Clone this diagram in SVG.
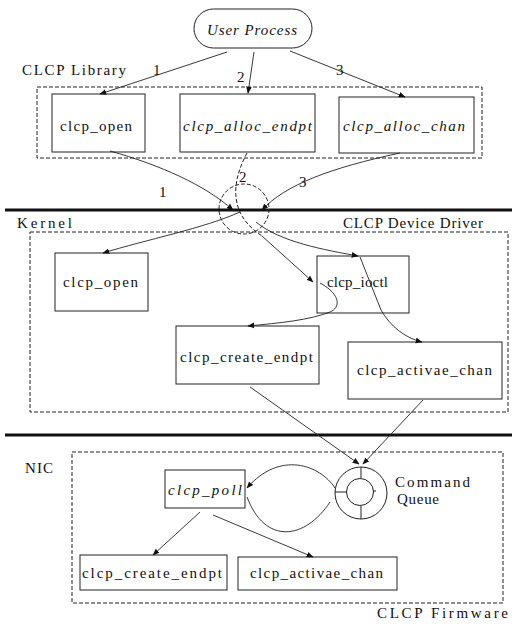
<svg xmlns="http://www.w3.org/2000/svg" width="512" height="628" viewBox="0 0 512 628">
<defs>
<style>
.t{font-family:"Liberation Serif","Times New Roman",serif;font-size:15px;fill:#111}
.i{font-style:italic}
.box{fill:none;stroke:#222;stroke-width:1}
.dash{fill:none;stroke:#222;stroke-width:1;stroke-dasharray:4 2}
.c{fill:none;stroke:#222;stroke-width:0.9}
.thick{stroke:#111;stroke-width:3}
</style>
<marker id="ah" viewBox="0 0 10 10" refX="9" refY="5" markerWidth="7" markerHeight="7" orient="auto" markerUnits="userSpaceOnUse">
<path d="M0,1 L10,5 L0,9 z" fill="#111"/>
</marker>
</defs>
<rect width="512" height="628" fill="#fff"/>

<line class="thick" x1="5" y1="210" x2="512" y2="210"/>
<line class="thick" x1="5" y1="435" x2="512" y2="435"/>
<g id="lib">
<rect class="dash" x="37" y="87" width="445" height="71"/>
<text class="t" x="22" y="75" textLength="104" lengthAdjust="spacing">CLCP Library</text>
</g>
<g id="driver">
<rect class="dash" x="30" y="232" width="478" height="180"/>
<text class="t" x="17" y="228" textLength="55" lengthAdjust="spacing">Kernel</text>
<text class="t" x="343" y="228" textLength="140" lengthAdjust="spacing">CLCP Device Driver</text>
</g>
<g id="firmware">
<rect class="dash" x="72" y="452" width="431" height="151"/>
<text class="t" x="25" y="473" textLength="28" lengthAdjust="spacing">NIC</text>
<text class="t" x="377" y="618" textLength="131" lengthAdjust="spacing">CLCP Firmware</text>
</g>

<g id="user-process">
<rect class="box" x="194" y="9" width="118" height="39" rx="19.5"/>
<text class="t i" x="207" y="35" textLength="90" lengthAdjust="spacing">User Process</text>
</g>

<g id="lib-open">
<rect class="box" x="52" y="94" width="93" height="58"/>
<text class="t" x="60" y="131" textLength="72" lengthAdjust="spacing">clcp_open</text>
</g>
<g id="lib-alloc-endpt">
<rect class="box" x="180" y="94" width="135" height="58"/>
<text class="t i" x="183" y="131" textLength="129" lengthAdjust="spacing">clcp_alloc_endpt</text>
</g>
<g id="lib-alloc-chan">
<rect class="box" x="339" y="97" width="135" height="56"/>
<text class="t i" x="343" y="131" textLength="122" lengthAdjust="spacing">clcp_alloc_chan</text>
</g>

<g id="syscall-gate">
<circle class="dash" cx="244" cy="209" r="25"/>
</g>

<g id="drv-open">
<rect class="box" x="55" y="253" width="93" height="58"/>
<text class="t" x="63" y="287" textLength="75" lengthAdjust="spacing">clcp_open</text>
</g>
<g id="drv-ioctl">
<rect class="box" x="317" y="256" width="92" height="57"/>
<text class="t" x="327" y="287" textLength="61" lengthAdjust="spacing">clcp_ioctl</text>
</g>
<g id="drv-create-endpt">
<rect class="box" x="176" y="326" width="143" height="58"/>
<text class="t" x="180" y="362" textLength="133" lengthAdjust="spacing">clcp_create_endpt</text>
</g>
<g id="drv-activae-chan">
<rect class="box" x="348" y="342" width="154" height="57"/>
<text class="t" x="357" y="375" textLength="135" lengthAdjust="spacing">clcp_activae_chan</text>
</g>

<g id="nic-poll">
<rect class="box" x="165" y="470" width="80" height="38"/>
<text class="t i" x="168" y="495" textLength="74" lengthAdjust="spacing">clcp_poll</text>
</g>
<g id="command-queue">
<circle class="box" cx="361" cy="493" r="26"/>
<circle class="box" cx="360" cy="492" r="13.5"/>
<line class="box" x1="361" y1="467" x2="361" y2="478"/>
<line class="box" x1="335" y1="492" x2="347" y2="492"/>
<line class="box" x1="361" y1="506" x2="361" y2="519"/>
<line class="box" x1="373" y1="491" x2="376" y2="491"/>
<text class="t" x="395" y="487" textLength="75" lengthAdjust="spacing">Command</text>
<text class="t" x="397" y="504" textLength="42" lengthAdjust="spacing">Queue</text>
</g>
<g id="nic-create-endpt">
<rect class="box" x="80" y="555" width="147" height="35"/>
<text class="t" x="82" y="578" textLength="140" lengthAdjust="spacing">clcp_create_endpt</text>
</g>
<g id="nic-activae-chan">
<rect class="box" x="238" y="557" width="159" height="33"/>
<text class="t" x="250" y="578" textLength="133" lengthAdjust="spacing">clcp_activae_chan</text>
</g>

<g id="connectors">
<path class="c" d="M227,52 L100,94" marker-end="url(#ah)"/>
<path class="c" d="M254,52 L248,93" marker-end="url(#ah)"/>
<path class="c" d="M290,51 L405,97" marker-end="url(#ah)"/>
<path class="c" d="M110,151 C160,165 205,185 233,210" marker-end="url(#ah)"/>
<path class="dash" d="M247,153 C230,185 230,215 262,236"/>
<path class="c" d="M262,236 L313,282" marker-end="url(#ah)"/>
<path class="c" d="M400,153 C330,168 285,185 262,210" marker-end="url(#ah)"/>
<path class="c" d="M240,212 C205,228 145,240 103,253" marker-end="url(#ah)"/>
<path class="c" d="M256,222 C280,242 325,250 358,256" marker-end="url(#ah)"/>
<path class="c" d="M360,257 L381,310 C390,326 405,338 422,342" marker-end="url(#ah)"/>
<path class="c" d="M320,283 C342,295 340,308 330,312 C310,320 280,323 248,326" marker-end="url(#ah)"/>
<path class="c" d="M250,387 L359,464" marker-end="url(#ah)"/>
<path class="c" d="M423,400 L363,464" marker-end="url(#ah)"/>
<path class="c" d="M335,488 C320,465 280,450 247,488" marker-end="url(#ah)"/>
<path class="c" d="M247,497 C265,545 305,540 330,502"/>
<path class="c" d="M200,512 L153,555" marker-end="url(#ah)"/>
<path class="c" d="M213,515 L313,557" marker-end="url(#ah)"/>
<text class="t" x="153" y="75">1</text>
<text class="t" x="237" y="82">2</text>
<text class="t" x="336" y="75">3</text>
<text class="t" x="159" y="197">1</text>
<text class="t" x="239" y="182">2</text>
<text class="t" x="299" y="187">3</text>
</g>
</svg>
